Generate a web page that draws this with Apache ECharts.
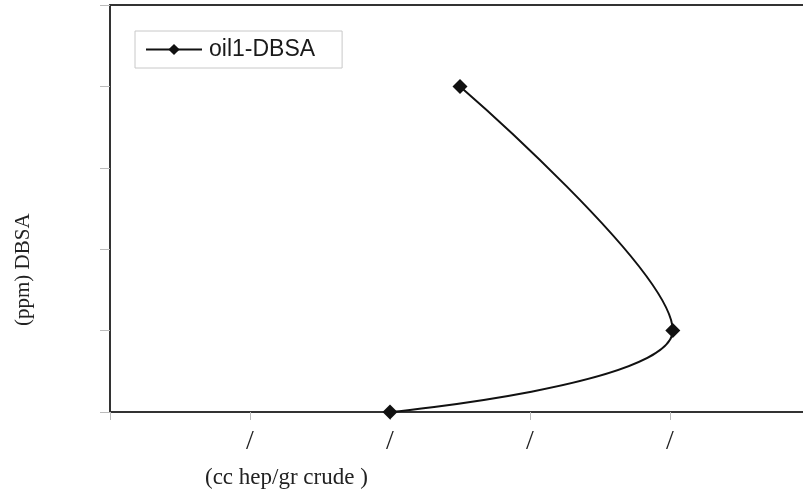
<!DOCTYPE html>
<html>
<head>
<meta charset="utf-8">
<script src="https://cdn.jsdelivr.net/npm/echarts@6/dist/echarts.min.js"></script>
<style>
  html, body { margin: 0; padding: 0; background: #fff; }
  #chart { width: 803px; height: 502px; }
</style>
</head>
<body>
<div id="chart"></div>
<script>
// 数据：x = cc hep/gr crude, y = ppm DBSA
const seriesName = 'oil1-DBSA'
const xValues = [2.0, 4.02, 2.5]
const yValues = [0, 1, 4]
const xTickValues = [0, 1, 2, 3, 4]
const xTickLabels = ['', '/', '/', '/', '/']

const chart = echarts.init(document.getElementById('chart'))

const option = {
  animation: false,
  grid: { left: 110, right: 0, top: 5, bottom: 90 },
  legend: {
    left: 135, top: 31,
    padding: [7, 27, 7, 10],
    borderColor: '#c8c8c8', borderWidth: 1,
    itemWidth: 56, itemHeight: 14, itemGap: 0,
    textStyle: { fontFamily: 'Liberation Sans', fontSize: 23, color: '#1a1a1a', padding: [0, 0, 0, 2] },
    data: [seriesName]
  },
  xAxis: [{
    type: 'value', min: 0, max: 4.95, interval: 1,
    axisLine: { lineStyle: { color: '#333', width: 2 } },
    axisTick: { lineStyle: { color: '#bbb' }, length: 8, customValues: xTickValues },
    axisLabel: {
      margin: 16, fontFamily: 'Liberation Serif', fontSize: 28, color: '#222',
      customValues: xTickValues,
      formatter: v => xTickLabels[Math.round(v)] || ''
    },
    splitLine: { show: false }
  }, {
    type: 'value', position: 'top', min: 0, max: 4.95,
    axisLine: { show: true, lineStyle: { color: '#333', width: 2 } },
    axisTick: { show: false }, axisLabel: { show: false }, splitLine: { show: false }
  }],
  yAxis: {
    type: 'value', min: 0, max: 5, interval: 1,
    axisLine: { show: true, lineStyle: { color: '#333', width: 2 } },
    axisTick: { show: true, lineStyle: { color: '#bbb' }, length: 10 },
    axisLabel: { show: false },
    splitLine: { show: false }
  },
  graphic: [
    {
      type: 'text', left: 205, top: 466,
      style: { text: '(cc hep/gr crude )', font: '23px "Liberation Serif"', fill: '#222' }
    },
    {
      type: 'text', x: 13, y: 326, rotation: Math.PI / 2,
      style: { text: '(ppm) DBSA', font: '21px "Liberation Serif"', fill: '#222' }
    }
  ],
  series: [{
    name: seriesName,
    type: 'line',
    smooth: 0.35,
    data: xValues.map((x, i) => [x, yValues[i]]),
    symbol: 'diamond', symbolSize: 15,
    itemStyle: { color: '#111' },
    lineStyle: { color: '#111', width: 2 }
  }]
}

chart.setOption(option)
</script>
</body>
</html>
